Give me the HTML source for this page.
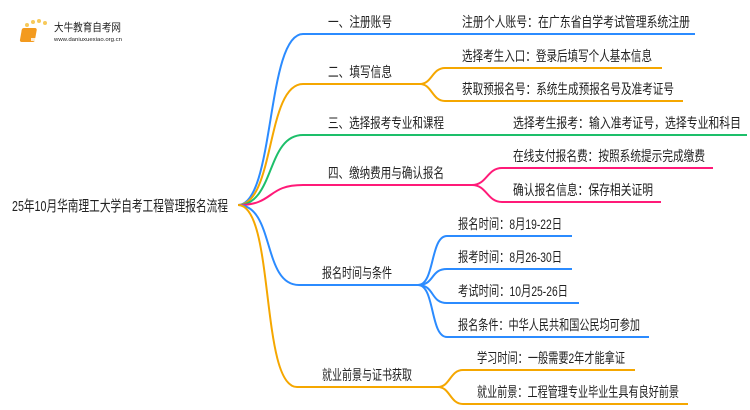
<!DOCTYPE html>
<html><head><meta charset="utf-8"><style>
html,body{margin:0;padding:0;background:#fff;}
svg{display:block;}
text{font-family:"Liberation Sans","Noto Sans CJK SC",sans-serif;fill:#222;}
</style></head><body>
<svg width="750" height="410" viewBox="0 0 750 410" xmlns="http://www.w3.org/2000/svg">
<g>
<circle cx="27" cy="25" r="2" fill="#f7c95a"/><circle cx="33" cy="22" r="2" fill="#f7c95a"/><circle cx="39" cy="21" r="2" fill="#f7c95a"/><circle cx="45" cy="23" r="2" fill="#f7c95a"/><circle cx="23" cy="31" r="1.5" fill="#f7c95a"/><circle cx="22" cy="38" r="1.5" fill="#f7c95a"/>
<rect x="27" y="28" width="15" height="14" rx="2" fill="#f39a1e" transform="skewX(-10)"/>
<rect x="31" y="38" width="12" height="3" fill="#fff" opacity="0.8"/>
<text x="54" y="31" font-size="11" fill="#333" textLength="67" lengthAdjust="spacingAndGlyphs">大牛教育自考网</text>
<text x="54" y="41" font-size="5" fill="#666" textLength="68" lengthAdjust="spacingAndGlyphs">www.daniuxuexiao.org.cn</text>
</g>
<g fill="none" stroke-width="2">
<path d="M238 205 C275 205,266 34,303 34 H695" stroke="#2b8bff"/>
<path d="M238 205 C275 205,266 84,303 84 H420" stroke="#f5a700"/>
<path d="M238 205 C275 205,266 135,303 135 H747" stroke="#1dbf6a"/>
<path d="M238 205 C275 205,266 185,303 185 H472" stroke="#ff1a78"/>
<path d="M238 205 C275 205,262 285,299 285 H418" stroke="#2b8bff"/>
<path d="M238 205 C275 205,260 387,297 387 H438" stroke="#f5a700"/>
<path d="M420 84 C432 84,432 68,445 68 H662" stroke="#f5a700"/>
<path d="M420 84 C432 84,432 101,445 101 H683" stroke="#f5a700"/>
<path d="M472 185 C487 185,487 168,502 168 H713" stroke="#ff1a78"/>
<path d="M472 185 C487 185,487 202,502 202 H661" stroke="#ff1a78"/>
<path d="M418 285 C435 285,430 236,447 236 H572" stroke="#2b8bff"/>
<path d="M418 285 C435 285,430 269,447 269 H572" stroke="#2b8bff"/>
<path d="M418 285 C435 285,430 303,447 303 H579" stroke="#2b8bff"/>
<path d="M418 285 C435 285,430 337,447 337 H649" stroke="#2b8bff"/>
<path d="M438 387 C450 387,450 370,463 370 H635" stroke="#f5a700"/>
<path d="M438 387 C450 387,450 404,463 404 H688" stroke="#f5a700"/>
</g>
<g font-size="14">
<text x="12" y="211" font-size="15" textLength="216" lengthAdjust="spacingAndGlyphs">25年10月华南理工大学自考工程管理报名流程</text>
<text x="328" y="27" textLength="64" lengthAdjust="spacingAndGlyphs">一、注册账号</text>
<text x="328" y="77" textLength="64" lengthAdjust="spacingAndGlyphs">二、填写信息</text>
<text x="328" y="128" textLength="116" lengthAdjust="spacingAndGlyphs">三、选择报考专业和课程</text>
<text x="328" y="178" textLength="116" lengthAdjust="spacingAndGlyphs">四、缴纳费用与确认报名</text>
<text x="322" y="278" textLength="70" lengthAdjust="spacingAndGlyphs">报名时间与条件</text>
<text x="322" y="380" textLength="90" lengthAdjust="spacingAndGlyphs">就业前景与证书获取</text>
<text x="462" y="27" textLength="228" lengthAdjust="spacingAndGlyphs">注册个人账号：在广东省自学考试管理系统注册</text>
<text x="462" y="61" textLength="190" lengthAdjust="spacingAndGlyphs">选择考生入口：登录后填写个人基本信息</text>
<text x="462" y="94" textLength="212" lengthAdjust="spacingAndGlyphs">获取预报名号：系统生成预报名号及准考证号</text>
<text x="513" y="128" textLength="228" lengthAdjust="spacingAndGlyphs">选择考生报考：输入准考证号，选择专业和科目</text>
<text x="513" y="161" textLength="192" lengthAdjust="spacingAndGlyphs">在线支付报名费：按照系统提示完成缴费</text>
<text x="513" y="195" textLength="140" lengthAdjust="spacingAndGlyphs">确认报名信息：保存相关证明</text>
<text x="458" y="229" textLength="104" lengthAdjust="spacingAndGlyphs">报名时间：8月19-22日</text>
<text x="458" y="262" textLength="104" lengthAdjust="spacingAndGlyphs">报考时间：8月26-30日</text>
<text x="458" y="296" textLength="110" lengthAdjust="spacingAndGlyphs">考试时间：10月25-26日</text>
<text x="458" y="330" textLength="182" lengthAdjust="spacingAndGlyphs">报名条件：中华人民共和国公民均可参加</text>
<text x="477" y="363" textLength="148" lengthAdjust="spacingAndGlyphs">学习时间：一般需要2年才能拿证</text>
<text x="477" y="397" textLength="202" lengthAdjust="spacingAndGlyphs">就业前景：工程管理专业毕业生具有良好前景</text>
</g>
</svg>
</body></html>
